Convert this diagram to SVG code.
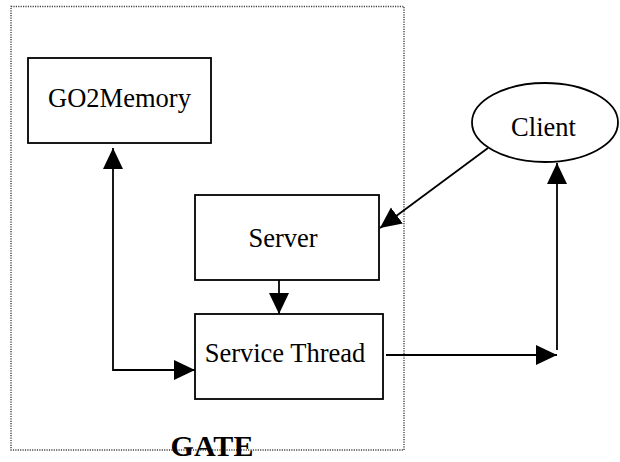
<svg xmlns="http://www.w3.org/2000/svg" width="620" height="462" viewBox="0 0 620 462">
  <style>
    .box { fill: #fff; stroke: #000; stroke-width: 1.8; }
    .lbl { font-family: "Liberation Serif", "Times New Roman", serif; font-size: 26.5px; fill: #000; text-anchor: middle; }
    .edge { fill: none; stroke: #000; stroke-width: 1.8; }
    .frame { fill: none; stroke: #444; stroke-width: 1.4; stroke-dasharray: 1.2 1.2; }
  </style>
  <defs>
    <marker id="head" markerUnits="userSpaceOnUse" markerWidth="22" markerHeight="21" refX="21" refY="10" orient="auto-start-reverse">
      <path d="M0,0 L21,10 L0,20 z" fill="#000"/>
    </marker>
  </defs>

  <rect width="620" height="462" fill="#fff"/>

  <!-- GATE boundary; the label sits across the bottom edge -->
  <g id="gate">
    <rect class="frame" x="11" y="6.5" width="393" height="443.5"/>
    <text x="212" y="456" font-family="Liberation Serif, Times New Roman, serif" font-size="30" font-weight="bold" text-anchor="middle">GATE</text>
  </g>

  <g id="go2memory">
    <rect class="box" x="28" y="58" width="183" height="85"/>
    <text class="lbl" x="119.5" y="107">GO2Memory</text>
  </g>

  <g id="server">
    <rect class="box" x="195" y="195" width="184" height="85"/>
    <text class="lbl" x="283" y="247">Server</text>
  </g>

  <g id="service-thread">
    <rect class="box" x="195" y="314" width="188" height="85"/>
    <text class="lbl" x="285" y="362">Service Thread</text>
  </g>

  <g id="client">
    <ellipse cx="545" cy="122.5" rx="73" ry="39.5" fill="#fff" stroke="#000" stroke-width="1.8"/>
    <text class="lbl" x="543.5" y="136" font-size="29">Client</text>
  </g>

  <g id="connectors">
    <path class="edge" d="M113,148 V370 H195" marker-start="url(#head)" marker-end="url(#head)"/>
    <path class="edge" d="M279,280 V314" marker-end="url(#head)"/>
    <path class="edge" d="M488,148 L380,228" marker-end="url(#head)"/>
    <path class="edge" d="M386,355 H557" marker-end="url(#head)"/>
    <path class="edge" d="M557,350 V163" marker-end="url(#head)"/>
  </g>
</svg>
